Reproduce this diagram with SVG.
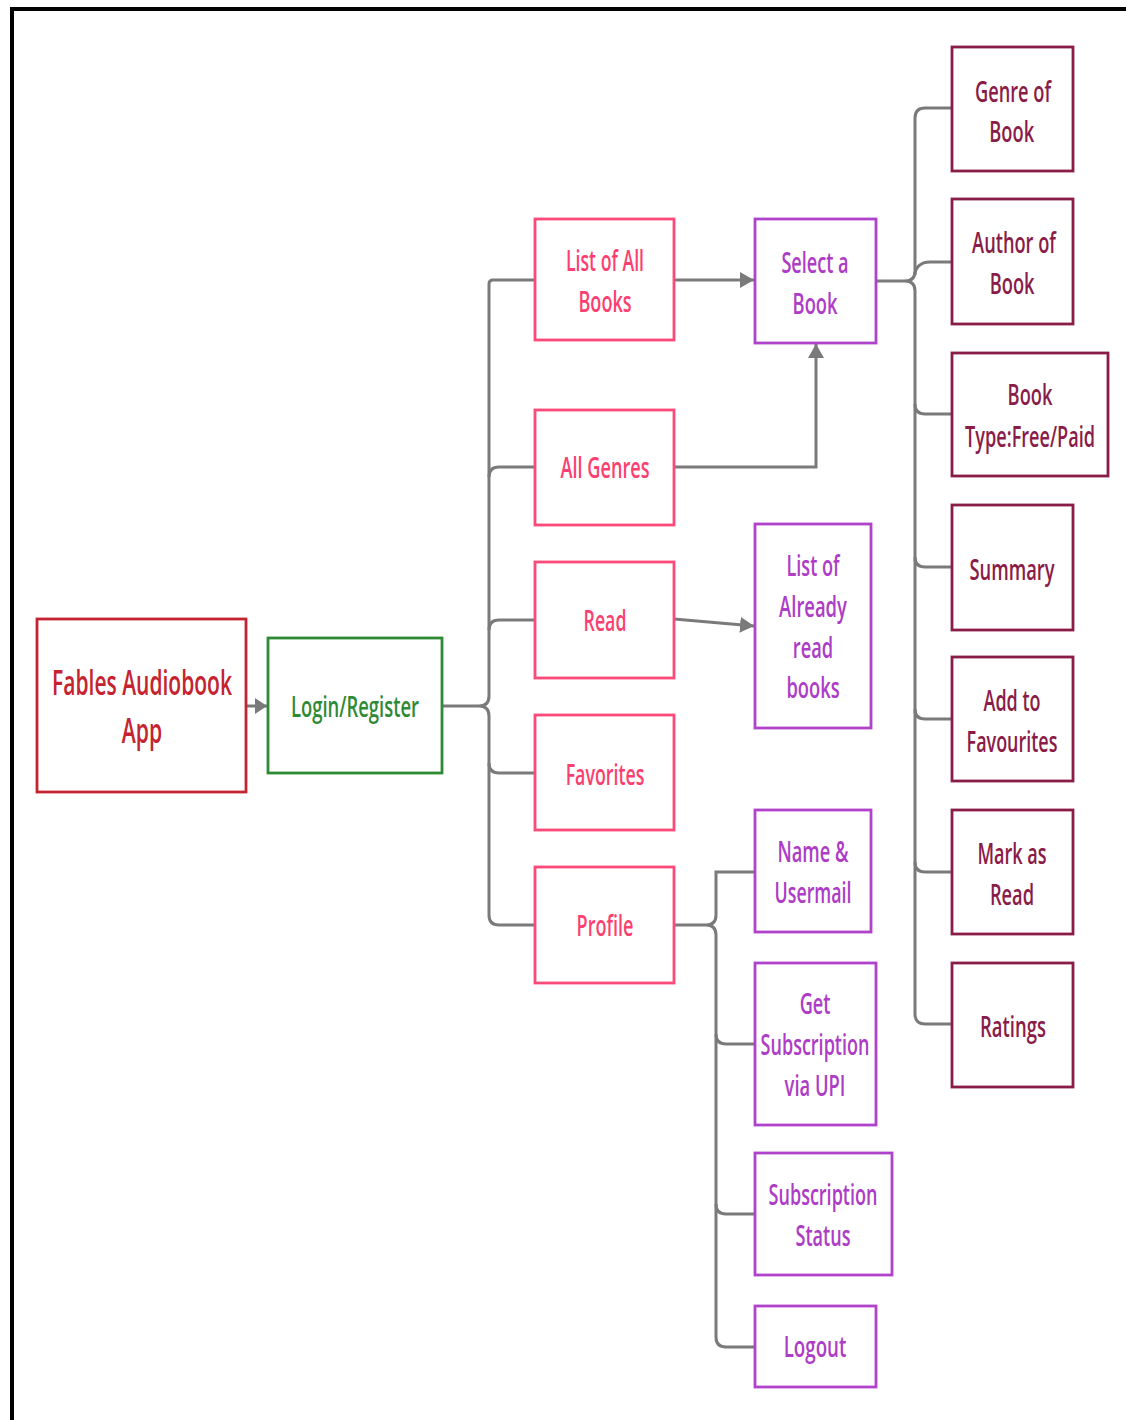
<svg xmlns="http://www.w3.org/2000/svg" width="1126" height="1420" viewBox="0 0 1126 1420">
<defs>
<marker id="arr" markerUnits="userSpaceOnUse" markerWidth="16" markerHeight="18" refX="14" refY="8" orient="auto">
<path d="M0,0 L14,8 L0,16 z" fill="#7a7a7a"/>
</marker>
<marker id="arrs" markerUnits="userSpaceOnUse" markerWidth="14" markerHeight="18" refX="12" refY="8" orient="auto">
<path d="M0,0 L12,8 L0,16 z" fill="#7a7a7a"/>
</marker>
</defs>
<style>
text{font-family:"Open Sans","Noto Sans","Liberation Sans",sans-serif;font-size:29px;font-weight:600;text-anchor:middle}
rect{fill:#ffffff;stroke-width:2.8}
.red rect{stroke:#c4232f}.red text{fill:#c4232f;font-size:34px}
.grn rect{stroke:#2f8a35}.grn text{fill:#2f8a35}
.pnk rect{stroke:#fb4a78}.pnk text{fill:#fb3f70}
.pur rect{stroke:#b043c9}.pur text{fill:#ad3cc6}
.mar rect{stroke:#8a1c48}.mar text{fill:#8a1c48}
.c path{fill:none;stroke:#7a7a7a;stroke-width:3}
</style>
<rect x="0" y="0" width="1126" height="1420" style="fill:#ffffff;stroke:none"/>
<path d="M10,9 L1126,9 M12,7 L12,1420" style="fill:none;stroke:#000000;stroke-width:4"/>

<g id="connectors" class="c">
<path d="M246,706 L267,706" marker-end="url(#arrs)"/>
<path d="M442,706 L479,706 Q489,706 489,696 M479,706 Q489,706 489,716"/>
<path d="M489,716 L489,915 Q489,925 499,925 L535,925"/>
<path d="M489,696 L489,284 Q489,280 493,280 L535,280"/>
<path d="M489,477 Q489,467 499,467 L535,467"/>
<path d="M489,630 Q489,620 499,620 L535,620"/>
<path d="M489,763 Q489,773 499,773 L535,773"/>
<path d="M674,280 L754,280" marker-end="url(#arr)"/>
<path d="M674,467 L816,467 L816,344" marker-end="url(#arr)"/>
<path d="M674,619 L754,626" marker-end="url(#arr)"/>
<path d="M876,281 L905,281 Q915,281 915,271 M905,281 Q915,281 915,291"/>
<path d="M915,271 L915,118 Q915,108 925,108 L952,108"/>
<path d="M915,275 C915,268 920,262 930,262 L952,262"/>
<path d="M915,291 L915,1014 Q915,1024 925,1024 L952,1024"/>
<path d="M915,404 Q915,414 925,414 L952,414"/>
<path d="M915,557 Q915,567 925,567 L952,567"/>
<path d="M915,709 Q915,719 925,719 L952,719"/>
<path d="M915,862 Q915,872 925,872 L952,872"/>
<path d="M674,925 L706,925 Q716,925 716,935 M706,925 Q716,925 716,915"/>
<path d="M716,915 L716,872 L755,872"/>
<path d="M716,935 L716,1337 Q716,1347 726,1347 L755,1347"/>
<path d="M716,1034 Q716,1044 726,1044 L755,1044"/>
<path d="M716,1204 Q716,1214 726,1214 L755,1214"/>
</g>

<g id="n-fables" class="red"><rect x="37" y="619" width="209" height="173"/>
<g transform="translate(142,0) scale(0.64,1)">
<text x="0" y="695" textLength="281" lengthAdjust="spacingAndGlyphs">Fables Audiobook</text>
<text x="0" y="743" textLength="63" lengthAdjust="spacingAndGlyphs">App</text></g></g>

<g id="n-login" class="grn"><rect x="268" y="638" width="174" height="135"/>
<g transform="translate(355,0) scale(0.64,1)">
<text x="0" y="717" textLength="200" lengthAdjust="spacingAndGlyphs">Login/Register</text></g></g>

<g id="n-listall" class="pnk"><rect x="535" y="219" width="139" height="121"/>
<g transform="translate(605,0) scale(0.64,1)">
<text x="0" y="271" textLength="122" lengthAdjust="spacingAndGlyphs">List of All</text>
<text x="0" y="312" textLength="83" lengthAdjust="spacingAndGlyphs">Books</text></g></g>

<g id="n-genres" class="pnk"><rect x="535" y="410" width="139" height="115"/>
<g transform="translate(605,0) scale(0.64,1)">
<text x="0" y="478" textLength="139" lengthAdjust="spacingAndGlyphs">All Genres</text></g></g>

<g id="n-read" class="pnk"><rect x="535" y="562" width="139" height="116"/>
<g transform="translate(605,0) scale(0.64,1)">
<text x="0" y="631" textLength="67" lengthAdjust="spacingAndGlyphs">Read</text></g></g>

<g id="n-favorites" class="pnk"><rect x="535" y="715" width="139" height="115"/>
<g transform="translate(605,0) scale(0.64,1)">
<text x="0" y="785" textLength="123" lengthAdjust="spacingAndGlyphs">Favorites</text></g></g>

<g id="n-profile" class="pnk"><rect x="535" y="867" width="139" height="116"/>
<g transform="translate(605,0) scale(0.64,1)">
<text x="0" y="936" textLength="89" lengthAdjust="spacingAndGlyphs">Profile</text></g></g>

<g id="n-select" class="pur"><rect x="755" y="219" width="121" height="124"/>
<g transform="translate(815,0) scale(0.64,1)">
<text x="0" y="273" textLength="105" lengthAdjust="spacingAndGlyphs">Select a</text>
<text x="0" y="314" textLength="70" lengthAdjust="spacingAndGlyphs">Book</text></g></g>

<g id="n-already" class="pur"><rect x="755" y="524" width="116" height="204"/>
<g transform="translate(813,0) scale(0.64,1)">
<text x="0" y="576" textLength="83" lengthAdjust="spacingAndGlyphs">List of</text>
<text x="0" y="617" textLength="106" lengthAdjust="spacingAndGlyphs">Already</text>
<text x="0" y="658" textLength="63" lengthAdjust="spacingAndGlyphs">read</text>
<text x="0" y="698" textLength="83" lengthAdjust="spacingAndGlyphs">books</text></g></g>

<g id="n-name" class="pur"><rect x="755" y="810" width="116" height="122"/>
<g transform="translate(813,0) scale(0.64,1)">
<text x="0" y="862" textLength="111" lengthAdjust="spacingAndGlyphs">Name &amp;</text>
<text x="0" y="903" textLength="120" lengthAdjust="spacingAndGlyphs">Usermail</text></g></g>

<g id="n-getsub" class="pur"><rect x="755" y="963" width="121" height="162"/>
<g transform="translate(815,0) scale(0.64,1)">
<text x="0" y="1014" textLength="48" lengthAdjust="spacingAndGlyphs">Get</text>
<text x="0" y="1055" textLength="170" lengthAdjust="spacingAndGlyphs">Subscription</text>
<text x="0" y="1096" textLength="95" lengthAdjust="spacingAndGlyphs">via UPI</text></g></g>

<g id="n-substatus" class="pur"><rect x="755" y="1153" width="137" height="122"/>
<g transform="translate(823,0) scale(0.64,1)">
<text x="0" y="1205" textLength="170" lengthAdjust="spacingAndGlyphs">Subscription</text>
<text x="0" y="1246" textLength="86" lengthAdjust="spacingAndGlyphs">Status</text></g></g>

<g id="n-logout" class="pur"><rect x="755" y="1306" width="121" height="81"/>
<g transform="translate(815,0) scale(0.64,1)">
<text x="0" y="1357" textLength="98" lengthAdjust="spacingAndGlyphs">Logout</text></g></g>

<g id="n-genre" class="mar"><rect x="952" y="47" width="121" height="124"/>
<g transform="translate(1013,0) scale(0.64,1)">
<text x="0" y="102" textLength="119" lengthAdjust="spacingAndGlyphs">Genre of</text>
<text x="-2" y="142" textLength="70" lengthAdjust="spacingAndGlyphs">Book</text></g></g>

<g id="n-author" class="mar"><rect x="952" y="199" width="121" height="125"/>
<g transform="translate(1014,0) scale(0.64,1)">
<text x="0" y="253" textLength="131" lengthAdjust="spacingAndGlyphs">Author of</text>
<text x="-3" y="294" textLength="70" lengthAdjust="spacingAndGlyphs">Book</text></g></g>

<g id="n-type" class="mar"><rect x="952" y="353" width="156" height="123"/>
<g transform="translate(1030,0) scale(0.64,1)">
<text x="0" y="405" textLength="70" lengthAdjust="spacingAndGlyphs">Book</text>
<text x="0" y="447" textLength="203" lengthAdjust="spacingAndGlyphs">Type:Free/Paid</text></g></g>

<g id="n-summary" class="mar"><rect x="952" y="505" width="121" height="125"/>
<g transform="translate(1012,0) scale(0.64,1)">
<text x="0" y="580" textLength="133" lengthAdjust="spacingAndGlyphs">Summary</text></g></g>

<g id="n-addfav" class="mar"><rect x="952" y="657" width="121" height="124"/>
<g transform="translate(1012,0) scale(0.64,1)">
<text x="0" y="711" textLength="89" lengthAdjust="spacingAndGlyphs">Add to</text>
<text x="0" y="752" textLength="142" lengthAdjust="spacingAndGlyphs">Favourites</text></g></g>

<g id="n-mark" class="mar"><rect x="952" y="810" width="121" height="124"/>
<g transform="translate(1012,0) scale(0.64,1)">
<text x="0" y="864" textLength="108" lengthAdjust="spacingAndGlyphs">Mark as</text>
<text x="0" y="905" textLength="69" lengthAdjust="spacingAndGlyphs">Read</text></g></g>

<g id="n-ratings" class="mar"><rect x="952" y="963" width="121" height="124"/>
<g transform="translate(1013,0) scale(0.64,1)">
<text x="0" y="1037" textLength="103" lengthAdjust="spacingAndGlyphs">Ratings</text></g></g>
</svg>
